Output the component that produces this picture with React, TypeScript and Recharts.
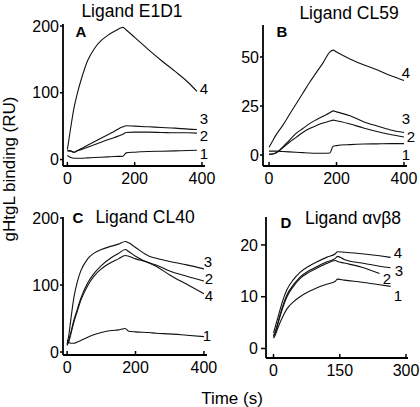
import React from "react";
import { LineChart, Line, XAxis, YAxis } from "recharts";

const FONT = '"Liberation Sans", Arial, Helvetica, sans-serif';

// Panel A - ligand E1D1 (time in s, binding in RU)
const timeA = [0, 10, 20, 30, 40, 60, 80, 100, 120, 140, 165, 175, 200, 240, 280, 320, 360, 385];
const a1 = [6, 3, 2, 2, 2, 2.5, 3, 3.5, 4, 4.5, 5, 10, 11, 12, 12.5, 13, 13.5, 14];
const a2 = [14, 13, 11, 13, 14.5, 18.5, 22, 26, 29.5, 33, 38, 40.5, 41, 41, 40.5, 40, 40, 39.5];
const a3 = [13, 12.5, 11, 13.5, 16, 21.5, 26.5, 32, 37, 42.5, 49, 50.5, 50, 49, 48, 47, 45.5, 45];
const a4 = [15, 48, 78, 100, 118, 148, 166, 178, 186, 192, 198, 194, 183, 165, 148, 132, 115, 102];

// Panel B - ligand CL59
const timeB = [0, 10, 20, 40, 60, 80, 100, 120, 140, 160, 180, 190, 200, 240, 280, 320, 360, 400];
const b1 = [2, 2, 2, 1.8, 1.6, 1.4, 1.2, 1, 0.9, 0.9, 1, 4.5, 4.8, 5.3, 5.6, 5.7, 5.8, 5.8];
const b2 = [0.3, 0.5, 1, 3.5, 6.5, 9, 11.5, 13.5, 15, 16.3, 17.3, 17.8, 17.5, 15.8, 13.8, 12, 10.5, 9.2];
const b3 = [0.5, 0.5, 1, 4, 7.5, 11, 13.5, 16, 18, 19.8, 21.5, 22.5, 22, 20, 17, 14.8, 12.8, 11.5];
const b4 = [4, 7, 10, 15, 20.5, 26, 31.5, 37, 42, 47, 52.5, 53.5, 52.5, 49, 46, 43.5, 40.5, 38];

// Panel C - ligand CL40
const timeC = [0, 5, 10, 20, 30, 40, 60, 80, 100, 130, 150, 170, 180, 200, 240, 260, 300, 350, 400];
const c1 = [18, 15, 13, 13, 15, 17, 22, 26, 29, 32, 33, 35, 31, 30, 29, 28, 27, 25, 23];
const c2 = [10, 17, 27, 48, 64, 80, 103, 118, 129, 141, 147, 153, 150, 143, 133, 130, 121, 113, 106];
const c3 = [12, 25, 45, 82, 105, 121, 139, 148, 153, 158, 161, 165, 163, 156, 143, 140, 135, 130, 124];
const c4 = [10, 16, 25, 45, 61, 77, 99, 114, 124, 134, 139, 144, 143, 139, 133, 128, 115, 101, 87];

// Panel D - ligand avb8
const timeD = [0, 5, 10, 20, 30, 45, 60, 80, 100, 120, 140, 145, 160, 200, 240, 265];
const d1 = [2, 2.8, 4, 6, 7.6, 9, 10, 11, 11.8, 12.4, 13, 13.4, 13.2, 12.8, 12.3, 12];
const d2 = [2.3, 3.3, 4.8, 7.6, 9.9, 12, 13.5, 14.7, 15.6, 16.4, 17, 16.8, 16.5, 15.7, 14.5, null];
const d3 = [2.5, 3.5, 5, 8, 10.3, 12.3, 13.8, 15, 15.9, 16.7, 17.4, 17.8, 17.2, 16.5, 15.9, 15.6];
const d4 = [3, 4.5, 6, 9, 11.3, 13.3, 14.7, 15.9, 16.8, 17.6, 18.3, 18.7, 18.6, 18.3, 17.9, 17.6];

const ticksX400 = [0, 200, 400];
const ticksX300 = [0, 150, 300];
const ticksA = [0, 100, 200];
const ticksB = [0, 25, 50];
const ticksC = [0, 100, 200];
const ticksD = [0, 10, 20];

const seriesKeys = ["s1", "s2", "s3", "s4"];

type Row = { t: number; [k: string]: number | null };

function toRows(time: number[], series: (number | null)[][]): Row[] {
  return time.map((t, i) => {
    const row: Row = { t };
    series.forEach((s, j) => {
      row[seriesKeys[j]] = s[i];
    });
    return row;
  });
}

const rowsA = toRows(timeA, [a1, a2, a3, a4]);
const rowsB = toRows(timeB, [b1, b2, b3, b4]);
const rowsC = toRows(timeC, [c1, c2, c3, c4]);
const rowsD = toRows(timeD, [d1, d2, d3, d4]);

const YW = 40;
const XH = 30;

type PanelProps = {
  rows: Row[];
  box: { x: number; y: number; w: number; h: number };
  plot: { l: number; t: number; r: number; b: number };
  xDomain: [number, number];
  yDomain: [number, number];
  xTicks: number[];
  yTicks: number[];
  yTickSize: number;
  yTickMargin: number;
};

function Panel({ rows, box, plot, xDomain, yDomain, xTicks, yTicks, yTickSize, yTickMargin }: PanelProps) {
  const margin = {
    left: plot.l - box.x - YW,
    top: plot.t - box.y,
    right: box.x + box.w - plot.r,
    bottom: box.y + box.h - plot.b - XH,
  };
  const tickStyle = { fill: "#000", fontSize: 16, fontFamily: FONT };
  return (
    <div style={{ position: "absolute", left: box.x, top: box.y, width: box.w, height: box.h }}>
      <LineChart width={box.w} height={box.h} data={rows} margin={margin}>
        <XAxis
          dataKey="t"
          type="number"
          domain={xDomain}
          ticks={xTicks}
          interval={0}
          allowDataOverflow
          height={XH}
          tickSize={-4}
          tickMargin={11}
          axisLine={{ stroke: "#000", strokeWidth: 1.8 }}
          tickLine={{ stroke: "#000", strokeWidth: 1.5 }}
          tick={tickStyle}
        />
        <YAxis
          type="number"
          domain={yDomain}
          ticks={yTicks}
          interval={0}
          allowDataOverflow
          width={YW}
          tickSize={yTickSize}
          tickMargin={yTickMargin}
          axisLine={{ stroke: "#000", strokeWidth: 1.8 }}
          tickLine={{ stroke: "#000", strokeWidth: 1.5 }}
          tick={tickStyle}
        />
        {seriesKeys.map((k) => (
          <Line
            key={k}
            dataKey={k}
            type="monotone"
            stroke="#111"
            strokeWidth={1.1}
            dot={false}
            connectNulls={false}
            isAnimationActive={false}
          />
        ))}
      </LineChart>
    </div>
  );
}

// curve numbers at the right end of each panel
const curveLabels = [
  { text: "4", x: 204, y: 94 },
  { text: "3", x: 204, y: 124 },
  { text: "2", x: 204, y: 141 },
  { text: "1", x: 204, y: 159 },
  { text: "4", x: 406, y: 78 },
  { text: "3", x: 406, y: 124 },
  { text: "2", x: 411, y: 142 },
  { text: "1", x: 406, y: 160 },
  { text: "3", x: 208, y: 267 },
  { text: "2", x: 209, y: 284 },
  { text: "4", x: 209, y: 301 },
  { text: "1", x: 207, y: 341 },
  { text: "4", x: 398, y: 258 },
  { text: "3", x: 399, y: 276 },
  { text: "2", x: 387, y: 284 },
  { text: "1", x: 398, y: 301 },
];

const titles = [
  { text: "Ligand E1D1", x: 132, y: 17 },
  { text: "Ligand CL59", x: 349, y: 18.5 },
  { text: "Ligand CL40", x: 145, y: 223 },
  { text: "Ligand αvβ8", x: 353, y: 224 },
];

const letters = [
  { text: "A", x: 81, y: 37 },
  { text: "B", x: 282, y: 37 },
  { text: "C", x: 78, y: 223 },
  { text: "D", x: 286, y: 228 },
];

export default function App() {
  return (
    <div
      style={{
        position: "absolute",
        left: 0,
        top: 0,
        width: 420,
        height: 407,
        background: "#fff",
        fontFamily: FONT,
        overflow: "hidden",
      }}
    >
      <style>{`.recharts-surface { overflow: visible; }`}</style>
      <Panel
        rows={rowsA}
        box={{ x: 0, y: 0, w: 210, h: 200 }}
        plot={{ l: 63, t: 24, r: 205, b: 166 }}
        xDomain={[-13, 409]}
        yDomain={[-9.7, 203]}
        xTicks={ticksX400}
        yTicks={ticksA}
        yTickSize={3}
        yTickMargin={1}
      />
      <Panel
        rows={rowsB}
        box={{ x: 210, y: 0, w: 210, h: 200 }}
        plot={{ l: 263, t: 25, r: 407, b: 166 }}
        xDomain={[-18, 409]}
        yDomain={[-5.6, 66.3]}
        xTicks={ticksX400}
        yTicks={ticksB}
        yTickSize={3}
        yTickMargin={1}
      />
      <Panel
        rows={rowsC}
        box={{ x: 0, y: 200, w: 210, h: 207 }}
        plot={{ l: 63, t: 217, r: 207, b: 355 }}
        xDomain={[-12, 409]}
        yDomain={[-4.5, 201.5]}
        xTicks={ticksX400}
        yTicks={ticksC}
        yTickSize={3}
        yTickMargin={1}
      />
      <Panel
        rows={rowsD}
        box={{ x: 210, y: 200, w: 210, h: 207 }}
        plot={{ l: 266, t: 217, r: 408, b: 358 }}
        xDomain={[-17, 304.5]}
        yDomain={[-1.84, 25.4]}
        xTicks={ticksX300}
        yTicks={ticksD}
        yTickSize={5}
        yTickMargin={3}
      />
      <svg
        width={420}
        height={407}
        style={{ position: "absolute", left: 0, top: 0, pointerEvents: "none" }}
      >
        {titles.map((d) => (
          <text key={d.text} x={d.x} y={d.y} textAnchor="middle" fontSize={17.5} fontFamily={FONT} fill="#000">
            {d.text}
          </text>
        ))}
        {letters.map((d) => (
          <text key={d.text} x={d.x} y={d.y} textAnchor="middle" fontSize={15} fontWeight="bold" fontFamily={FONT} fill="#000">
            {d.text}
          </text>
        ))}
        {curveLabels.map((d, i) => (
          <text key={i} x={d.x} y={d.y} textAnchor="middle" fontSize={15} fontFamily={FONT} fill="#000">
            {d.text}
          </text>
        ))}
        <text
          x={15}
          y={169}
          textAnchor="middle"
          fontSize={17}
          fontFamily={FONT}
          fill="#000"
          transform="rotate(-90 15 169)"
        >
          gHtgL binding (RU)
        </text>
        <text x={232} y={404} textAnchor="middle" fontSize={17} fontFamily={FONT} fill="#000">
          Time (s)
        </text>
      </svg>
    </div>
  );
}
